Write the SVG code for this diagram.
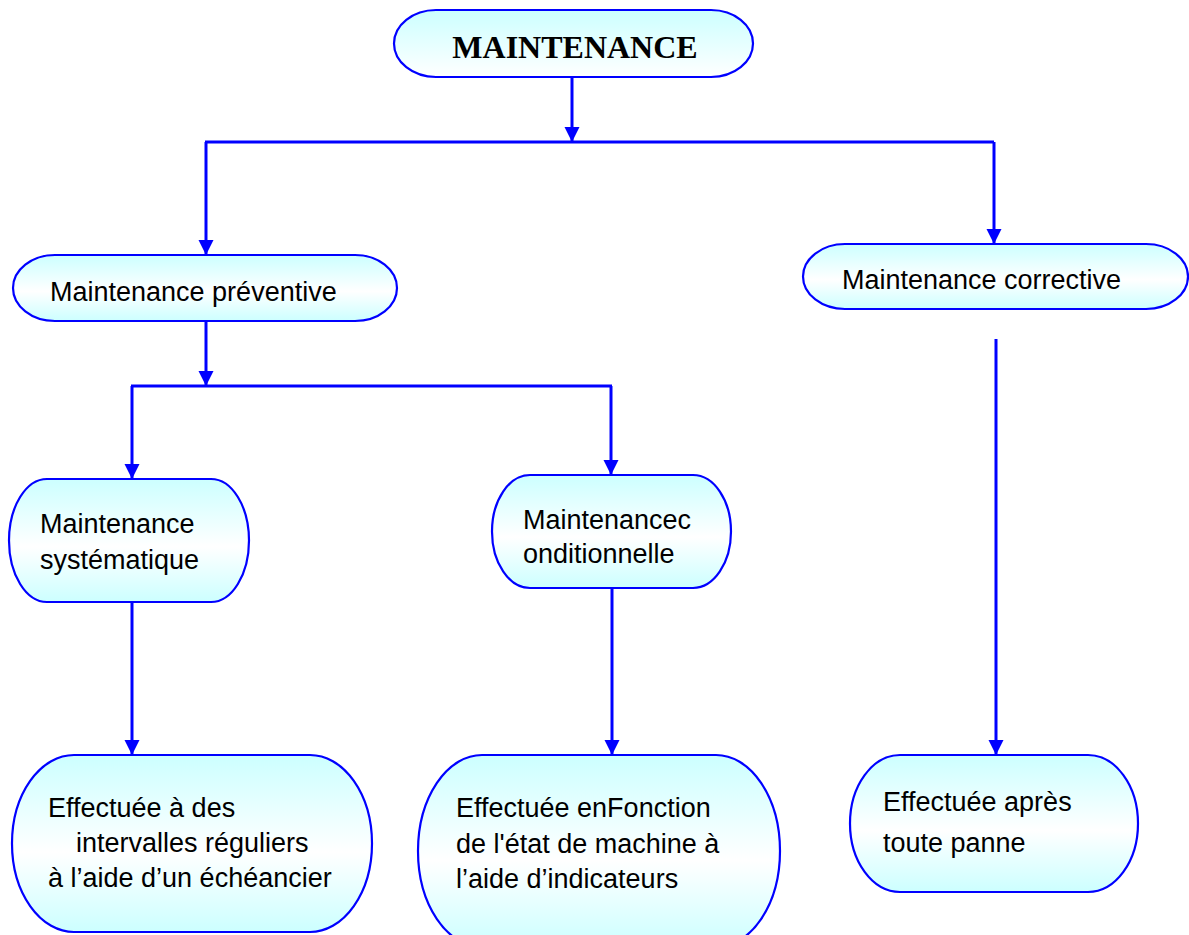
<svg xmlns="http://www.w3.org/2000/svg" width="1189" height="935" viewBox="0 0 1189 935">
<defs>
<linearGradient id="fill" x1="0" y1="0" x2="0" y2="1">
<stop offset="0" stop-color="#ccffff"/>
<stop offset="0.55" stop-color="#ffffff"/>
<stop offset="1" stop-color="#ccffff"/>
</linearGradient>
<linearGradient id="fillTop" x1="0" y1="0" x2="0" y2="1">
<stop offset="0" stop-color="#ccffff"/>
<stop offset="1" stop-color="#ffffff"/>
</linearGradient>
<marker id="ah" markerUnits="userSpaceOnUse" markerWidth="16" markerHeight="16" viewBox="-8 -15 16 16" refX="0" refY="0" orient="0">
<path d="M-7.5,-15 L7.5,-15 L0,0 Z" fill="#0000ff"/>
</marker>
</defs>
<style>
.node{fill:url(#fill);stroke:#0000ff;stroke-width:2.2}
.t{font-family:"Liberation Sans",Arial,sans-serif;font-size:27px;fill:#000}
.conn{fill:none;stroke:#0000ff;stroke-width:3}
</style>

<g id="connectors">
<path class="conn" d="M572,77 V142" marker-end="url(#ah)"/>
<path class="conn" d="M205,142 H994"/>
<path class="conn" d="M206,142 V255" marker-end="url(#ah)"/>
<path class="conn" d="M994,142 V244" marker-end="url(#ah)"/>
<path class="conn" d="M206,321 V386" marker-end="url(#ah)"/>
<path class="conn" d="M131,386 H612"/>
<path class="conn" d="M132,386 V479" marker-end="url(#ah)"/>
<path class="conn" d="M611,386 V475" marker-end="url(#ah)"/>
<path class="conn" d="M132,602 V755" marker-end="url(#ah)"/>
<path class="conn" d="M612,588 V755" marker-end="url(#ah)"/>
<path class="conn" d="M996,339 V755" marker-end="url(#ah)"/>
</g>

<g id="maintenance">
<rect x="394" y="10" width="359" height="67" rx="42" ry="33.5" fill="url(#fillTop)" stroke="#0000ff" stroke-width="2.2"/>
<text x="575" y="58" text-anchor="middle" font-family="'Liberation Serif','Times New Roman',serif" font-weight="bold" font-size="32">MAINTENANCE</text>
</g>

<g id="preventive">
<rect class="node" x="13" y="255" width="384" height="66" rx="42" ry="33"/>
<text class="t" x="50" y="301">Maintenance préventive</text>
</g>

<g id="corrective">
<rect class="node" x="803" y="244" width="385" height="65" rx="42" ry="32.5"/>
<text class="t" x="842" y="289">Maintenance corrective</text>
</g>

<g id="systematique">
<rect class="node" x="9" y="479" width="240" height="123" rx="38" ry="61.5"/>
<text class="t" x="40" y="533">Maintenance</text>
<text class="t" x="40" y="569">systématique</text>
</g>

<g id="conditionnelle">
<rect class="node" x="492" y="475" width="239" height="113" rx="38" ry="56.5"/>
<text class="t" x="523" y="529">Maintenancec</text>
<text class="t" x="523" y="563">onditionnelle</text>
</g>

<g id="effectuee-intervalles">
<rect class="node" x="12" y="755" width="360" height="177" rx="62" ry="88.5"/>
<text class="t" x="48" y="817">Effectuée à des</text>
<text class="t" x="76" y="852">intervalles réguliers</text>
<text class="t" x="48" y="887">à l’aide d’un échéancier</text>
</g>

<g id="effectuee-fonction">
<rect class="node" x="418" y="755" width="362" height="192" rx="64" ry="96"/>
<text class="t" x="456" y="817">Effectuée enFonction</text>
<text class="t" x="456" y="853">de l'état de machine à</text>
<text class="t" x="456" y="888">l’aide d’indicateurs</text>
</g>

<g id="effectuee-panne">
<rect class="node" x="850" y="755" width="288" height="137" rx="50" ry="68.5"/>
<text class="t" x="883" y="811">Effectuée après</text>
<text class="t" x="883" y="852">toute panne</text>
</g>
</svg>
